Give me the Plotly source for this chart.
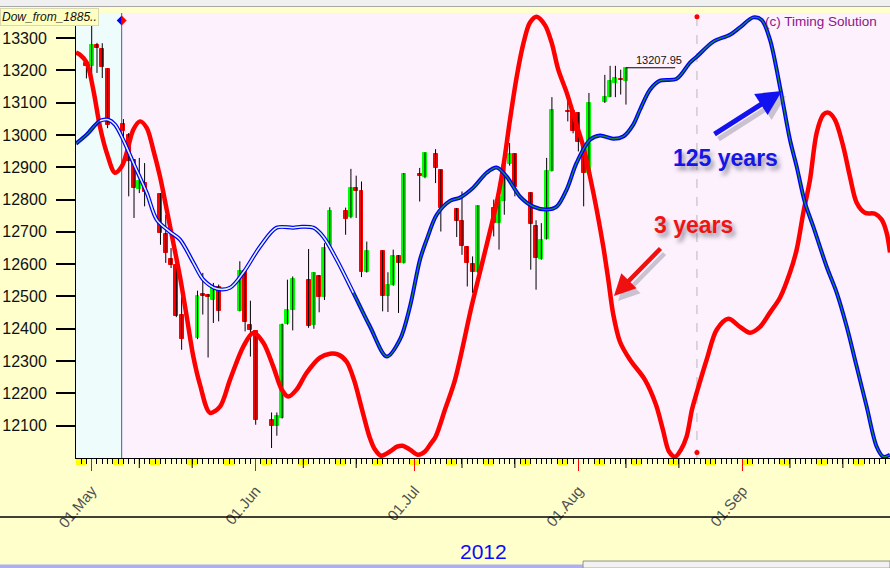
import plotly.graph_objects as go
import pandas as pd

# ---------------- data ----------------
candle_dates = ["2012-04-30", "2012-05-01", "2012-05-02", "2012-05-03", "2012-05-04", "2012-05-07",
                "2012-05-08", "2012-05-09", "2012-05-10", "2012-05-11", "2012-05-14", "2012-05-15",
                "2012-05-16", "2012-05-17", "2012-05-18", "2012-05-21", "2012-05-22", "2012-05-23",
                "2012-05-24", "2012-05-25", "2012-05-29", "2012-05-30", "2012-05-31", "2012-06-01",
                "2012-06-04", "2012-06-05", "2012-06-06", "2012-06-07", "2012-06-08", "2012-06-11",
                "2012-06-12", "2012-06-13", "2012-06-14", "2012-06-15", "2012-06-18", "2012-06-19",
                "2012-06-20", "2012-06-21", "2012-06-22", "2012-06-25", "2012-06-26", "2012-06-27",
                "2012-06-28", "2012-06-29", "2012-07-02", "2012-07-03", "2012-07-05", "2012-07-06",
                "2012-07-09", "2012-07-10", "2012-07-11", "2012-07-12", "2012-07-13", "2012-07-16",
                "2012-07-17", "2012-07-18", "2012-07-19", "2012-07-20", "2012-07-23", "2012-07-24",
                "2012-07-25", "2012-07-26", "2012-07-27", "2012-07-30", "2012-07-31", "2012-08-01",
                "2012-08-02", "2012-08-03", "2012-08-06", "2012-08-07", "2012-08-08", "2012-08-09",
                "2012-08-10"]
opens = [13222, 13214, 13279, 13267, 13204, 13034, 13001, 12921, 12832, 12851, 12818, 12694,
         12616, 12598, 12444, 12372, 12508, 12506, 12490, 12529, 12454, 12580, 12413, 12392,
         12119, 12100, 12124, 12416, 12459, 12552, 12413, 12564, 12498, 12655, 12766, 12745,
         12836, 12825, 12575, 12640, 12503, 12534, 12626, 12604, 12880, 12870, 12942, 12890,
         12772, 12735, 12652, 12601, 12575, 12774, 12727, 12796, 12910, 12941, 12820, 12719,
         12617, 12679, 12889, 13075, 13073, 13068, 12970, 12882, 13101, 13119, 13161, 13173,
         13168]
highs = [13230, 13338, 13285, 13284, 13206, 13049, 13006, 12925, 12929, 12913, 12820, 12753,
         12650, 12617, 12500, 12518, 12573, 12508, 12542, 12537, 12609, 12582, 12487, 12392,
         12141, 12141, 12416, 12552, 12562, 12647, 12575, 12566, 12665, 12776, 12775, 12895,
         12874, 12856, 12670, 12642, 12575, 12645, 12628, 12882, 12898, 12946, 12956, 12892,
         12774, 12825, 12655, 12624, 12782, 12800, 12810, 12910, 12975, 12943, 12822, 12736,
         12727, 12929, 13117, 13114, 13078, 13070, 12972, 13130, 13186, 13214, 13214, 13202,
         13208]
lows = [13175, 13176, 13192, 13176, 13021, 12985, 12810, 12743, 12820, 12779, 12660, 12604,
        12588, 12436, 12335, 12368, 12444, 12311, 12418, 12423, 12454, 12392, 12314, 12103,
        12031, 12069, 12122, 12413, 12395, 12403, 12400, 12451, 12489, 12652, 12691, 12742,
        12743, 12560, 12574, 12454, 12452, 12533, 12449, 12602, 12794, 12866, 12851, 12701,
        12684, 12629, 12531, 12511, 12573, 12686, 12645, 12753, 12905, 12810, 12583, 12521,
        12614, 12676, 12887, 13042, 13005, 12949, 12779, 12880, 13099, 13117, 13117, 13125,
        13094]
closes = [13214, 13279, 13270, 13210, 13030, 13011, 12918, 12836, 12856, 12822, 12696, 12635,
          12598, 12441, 12368, 12503, 12503, 12498, 12526, 12454, 12580, 12420, 12395, 12119,
          12100, 12129, 12413, 12459, 12554, 12410, 12573, 12498, 12650, 12766, 12741, 12836,
          12826, 12575, 12642, 12503, 12534, 12626, 12604, 12880, 12872, 12944, 12898, 12774,
          12735, 12655, 12605, 12575, 12779, 12727, 12807, 12908, 12941, 12838, 12724, 12619,
          12676, 12889, 13076, 13071, 13011, 12977, 12882, 13099, 13119, 13168, 13176, 13169,
          13207.95]

# cycle projections: days after 2012-05-01 and price level
red_days = [-2.97, -2.21, -0.95, 0.30, 1.57, 2.84, 4.40, 5.67, 6.62, 7.86, 9.13, 10.40, 11.64,
            12.91, 14.18, 15.43, 16.69, 17.96, 19.21, 20.47, 22.36, 24.25, 26.14, 28.66, 30.55,
            32.44, 34.33, 35.92, 37.16, 38.75, 40.64, 43.16, 45.05, 46.62, 48.20, 49.58, 51.10,
            52.51, 53.55, 54.69, 56.39, 57.71, 58.77, 60.17, 61.68, 63.01, 63.95, 65.01, 66.79,
            68.68, 71.89, 74.67, 76.56, 77.81, 79.07, 80.34, 81.59, 82.85, 84.11, 85.69, 86.96,
            88.20, 89.79, 91.36, 92.93, 94.20, 95.46, 96.71, 97.66, 98.60, 99.86, 101.76, 104.59,
            106.67, 107.99, 109.13, 110.27, 111.40, 112.46, 113.48, 114.37, 116.26, 118.15,
            120.34, 122.55, 124.44, 126.33, 128.22, 130.11, 132.00, 133.27, 134.52, 135.78,
            137.05, 138.30, 139.24, 140.51, 142.08, 143.34, 144.61, 146.18, 148.07, 149.34,
            150.28, 150.91]
red_vals = [13255, 13248, 13224, 13140, 13025, 12945, 12883, 12902, 12945, 13016, 13042, 13022,
            12954, 12871, 12769, 12666, 12561, 12438, 12314, 12227, 12140, 12159, 12242, 12345,
            12388, 12357, 12283, 12212, 12190, 12212, 12264, 12311, 12323, 12320, 12298, 12242,
            12150, 12066, 12026, 12007, 12020, 12035, 12038, 12026, 12010, 12020, 12041, 12066,
            12150, 12242, 12475, 12660, 12790, 12902, 13047, 13180, 13282, 13348, 13366, 13340,
            13285, 13202, 13131, 13047, 12964, 12871, 12769, 12654, 12552, 12444, 12360, 12304,
            12242, 12165, 12087, 12020, 12004, 12026, 12066, 12150, 12202, 12305, 12397, 12431,
            12406, 12388, 12406, 12450, 12496, 12574, 12645, 12759, 12861, 13007, 13063, 13069,
            13047, 12964, 12871, 12790, 12759, 12756, 12738, 12697, 12636]
blue_days = [-2.97, -0.95, 1.57, 3.14, 4.40, 5.97, 7.86, 10.40, 12.29, 14.80, 16.69, 19.21,
             21.10, 23.63, 26.14, 28.66, 31.81, 34.97, 38.11, 39.70, 41.89, 43.78, 46.31, 49.45,
             52.61, 55.77, 58.28, 60.17, 62.06, 63.33, 65.22, 67.74, 69.63, 72.14, 74.67, 76.56,
             78.45, 80.97, 83.48, 86.01, 87.90, 89.79, 91.68, 94.20, 96.09, 98.60, 100.49, 102.38,
             103.65, 105.54, 107.43, 110.59, 113.10, 114.37, 117.51, 120.66, 122.55, 125.07,
             126.65, 128.22, 130.11, 132.00, 133.27, 134.84, 136.41, 138.94, 140.83, 142.72,
             144.61, 146.50, 148.39, 149.64, 150.91]
blue_vals = [12973, 13001, 13044, 13047, 13032, 12985, 12914, 12821, 12738, 12700, 12676, 12605,
             12552, 12524, 12527, 12574, 12654, 12713, 12713, 12716, 12713, 12685, 12614, 12512,
             12407, 12314, 12367, 12469, 12614, 12676, 12753, 12796, 12806, 12837, 12883, 12899,
             12871, 12809, 12778, 12769, 12778, 12831, 12914, 12985, 12998, 12988, 12995, 13032,
             13078, 13140, 13168, 13174, 13224, 13242, 13289, 13310, 13333, 13364, 13356, 13295,
             13149, 12985, 12902, 12790, 12716, 12592, 12512, 12407, 12283, 12159, 12035, 12004,
             12010]

month_ticks = ["2012-05-01", "2012-06-01", "2012-07-01", "2012-08-01", "2012-09-01"]
month_labels = ["01.May", "01.Jun", "01.Jul", "01.Aug", "01.Sep"]
y_ticks = list(range(12100, 13301, 100))

assert len(red_days) == len(red_vals) and len(blue_days) == len(blue_vals)

# ---------------- helpers ----------------
BASE = pd.Timestamp("2012-05-01")
def to_dates(days):
    return [BASE + pd.Timedelta(days=d) for d in days]

red_x = to_dates(red_days)
blue_x = to_dates(blue_days)
cd = pd.to_datetime(candle_dates)

X_LO = "2012-04-28 00:46"
X_HI = "2012-09-28 21:50"
Y_LO, Y_HI = 12000, 13377.5
VLINE = "2012-05-06 16:00"
DASHED = "2012-08-23 10:00"
FONT = "Liberation Sans, Arial, sans-serif"

fig = go.Figure()

# wicks
wx, wy = [], []
for d, h, l in zip(cd, highs, lows):
    wx += [d, d, None]
    wy += [l, h, None]
fig.add_trace(go.Scatter(x=wx, y=wy, mode="lines", line=dict(color="black", width=1),
                         hoverinfo="skip", showlegend=False))
# bodies
cols = ["#00ff00" if c >= o else "#ff0000" for o, c in zip(opens, closes)]
fig.add_trace(go.Bar(x=cd, y=[c - o for o, c in zip(opens, closes)], base=opens,
                     width=0.75 * 86400000,
                     marker=dict(color=cols, line=dict(color=cols, width=1)),
                     hoverinfo="skip", showlegend=False))

# 3-year cycle (red)
fig.add_trace(go.Scatter(x=red_x, y=red_vals, mode="lines", line=dict(color="#ff0000", width=4.5, shape="spline", smoothing=0.9),
                         hoverinfo="skip", showlegend=False))
# 125-year cycle (blue double line)
fig.add_trace(go.Scatter(x=blue_x, y=blue_vals, mode="lines", line=dict(color="#0000ff", width=4.0, shape="spline", smoothing=0.9),
                         hoverinfo="skip", showlegend=False))
fig.add_trace(go.Scatter(x=blue_x, y=blue_vals, mode="lines", line=dict(color="#1a8a3a", width=1.3, shape="spline", smoothing=0.9),
                         hoverinfo="skip", showlegend=False))
mid = [i for i, d in enumerate(blue_days) if 0.0 <= d <= 50.5]
fig.add_trace(go.Scatter(x=[blue_x[i] for i in mid], y=[blue_vals[i] for i in mid], mode="lines",
                         line=dict(color="#e6efff", width=1.5, shape="spline", smoothing=0.9),
                         hoverinfo="skip", showlegend=False))

# red dots on the dashed line
fig.add_trace(go.Scatter(x=[DASHED, DASHED], y=[13366, 12017], mode="markers",
                         marker=dict(color="#ff0000", size=5), hoverinfo="skip", showlegend=False))

shapes = []
# cyan history strip + vertical line
shapes.append(dict(type="rect", xref="x", yref="paper", x0=X_LO, x1=VLINE, y0=0, y1=1,
                   fillcolor="#effcfc", line=dict(width=0), layer="below"))
shapes.append(dict(type="line", xref="x", yref="paper", x0=VLINE, x1=VLINE, y0=0, y1=1,
                   line=dict(color="#2a6e8e", width=1), layer="below"))
shapes.append(dict(type="line", xref="x", yref="paper", x0=DASHED, x1=DASHED, y0=0, y1=1,
                   line=dict(color="#b8b8b8", width=1, dash="dash"), layer="below"))
# diamond marker at top of vertical line
shapes.append(dict(type="path", xref="x", yref="y", xsizemode="pixel", ysizemode="pixel",
                   xanchor=VLINE, yanchor=13354, path="M-5,0 L0,5 L0,-5 Z",
                   fillcolor="#0000ff", line=dict(width=0)))
shapes.append(dict(type="path", xref="x", yref="y", xsizemode="pixel", ysizemode="pixel",
                   xanchor=VLINE, yanchor=13354, path="M5,0 L0,5 L0,-5 Z",
                   fillcolor="#ff0000", line=dict(width=0)))
# weekend blocks under axis
for sat in pd.date_range("2012-04-28", "2012-09-29", freq="W-SAT"):
    shapes.append(dict(type="rect", xref="x", yref="paper", x0=sat, x1=sat + pd.Timedelta(days=2),
                       y0=-0.0157, y1=0, fillcolor="#ffff00", line=dict(width=0), layer="below"))
# 10th / 20th day ticks
for m in range(5, 10):
    for dd in (10, 20):
        t = pd.Timestamp(2012, m, dd)
        shapes.append(dict(type="line", xref="x", yref="paper", x0=t, x1=t, y0=-0.0225, y1=0,
                           line=dict(color="black", width=1)))
# last-close marker line
shapes.append(dict(type="line", xref="x", yref="y", x0=cd[-1], x1=cd[-1] + pd.Timedelta(days=9.3),
                   y0=closes[-1], y1=closes[-1], line=dict(color="black", width=1)))
# window decorations
shapes.append(dict(type="rect", xref="paper", yref="paper", x0=-0.0934, x1=1.0, y0=1.0157, y1=1.03,
                   fillcolor="#f0f0f0", line=dict(width=0)))
shapes.append(dict(type="line", xref="paper", yref="paper", x0=-0.0934, x1=1.0, y0=1.0146, y1=1.0146,
                   line=dict(color="#a8a8a8", width=1)))
shapes.append(dict(type="line", xref="paper", yref="paper", x0=-0.0934, x1=1.0, y0=-0.1326, y1=-0.1326,
                   line=dict(color="black", width=1.3)))
shapes.append(dict(type="rect", xref="paper", yref="paper", x0=-0.0934, x1=1.0, y0=-0.2475, y1=-0.2393,
                   fillcolor="#aeaef2", line=dict(width=0)))
shapes.append(dict(type="rect", xref="paper", yref="paper", x0=0.6229, x1=1.0, y0=-0.2475, y1=-0.2315,
                   fillcolor="#f2f2f2", line=dict(color="#909090", width=1)))

annotations = []
annotations.append(dict(xref="paper", yref="paper", x=-0.0934, y=0.992, xanchor="left", yanchor="middle",
                        text="<i>Dow_from_1885..</i>", showarrow=False, bgcolor="#ffffc0",
                        bordercolor="#d8d8b0", borderwidth=1, borderpad=1,
                        font=dict(family=FONT, size=12, color="#111111")))
annotations.append(dict(xref="paper", yref="paper", x=0.9152, y=0.982, xanchor="center", yanchor="middle",
                        text="(c) Timing Solution", showarrow=False,
                        font=dict(family=FONT, size=13.5, color="#8a168a")))
annotations.append(dict(xref="x", yref="y", x=cd[-1] + pd.Timedelta(days=6.3), y=closes[-1],
                        xanchor="center", yanchor="bottom", yshift=0,
                        text=f"{closes[-1]:.2f}", showarrow=False,
                        font=dict(family=FONT, size=11, color="#111111")))
# arrow shadows
annotations.append(dict(xref="paper", yref="paper", x=0.8673, y=0.8247, ax=-69, ay=44, text="",
                        showarrow=True, arrowhead=2, arrowsize=1, arrowwidth=5,
                        arrowcolor="rgba(90,90,110,0.30)", xshift=4, yshift=-5, standoff=0))
annotations.append(dict(xref="paper", yref="paper", x=0.6609, y=0.3640, ax=48, ay=-49, text="",
                        showarrow=True, arrowhead=2, arrowsize=0.95, arrowwidth=4.5,
                        arrowcolor="rgba(90,90,110,0.30)", xshift=4, yshift=-5, standoff=0))
# arrows
annotations.append(dict(xref="paper", yref="paper", x=0.8673, y=0.8247, ax=-69, ay=44, text="",
                        showarrow=True, arrowhead=2, arrowsize=1, arrowwidth=5,
                        arrowcolor="#1212f0", standoff=0))
annotations.append(dict(xref="paper", yref="paper", x=0.6609, y=0.3640, ax=48, ay=-49, text="",
                        showarrow=True, arrowhead=2, arrowsize=0.95, arrowwidth=4.5,
                        arrowcolor="#f01010", standoff=0))
# labels
annotations.append(dict(xref="paper", yref="paper", x=0.7973, y=0.6742, xanchor="center", yanchor="middle",
                        text="<b>125 years</b>", showarrow=False,
                        font=dict(family=FONT, size=23, color="#1515e6",
                                  shadow="3px 4px 4px rgba(70,70,90,0.55)")))
annotations.append(dict(xref="paper", yref="paper", x=0.758, y=0.5236, xanchor="center", yanchor="middle",
                        text="<b>3 years</b>", showarrow=False,
                        font=dict(family=FONT, size=23, color="#f01414",
                                  shadow="3px 4px 4px rgba(70,70,90,0.55)")))
annotations.append(dict(xref="paper", yref="paper", x=0.5012, y=-0.209, xanchor="center", yanchor="middle",
                        text="2012", showarrow=False,
                        font=dict(family=FONT, size=21, color="#0a0aff")))

fig.update_layout(
    width=890, height=568,
    margin=dict(l=76, r=0, t=13, b=110, pad=0),
    paper_bgcolor="#ffffcc", plot_bgcolor="#fdf1fd",
    showlegend=False, bargap=0,
    shapes=shapes, annotations=annotations,
    font=dict(family=FONT),
    xaxis=dict(type="date", range=[X_LO, X_HI], showgrid=False, zeroline=False,
               showline=True, linecolor="black", linewidth=1,
               tickmode="array", tickvals=month_ticks, ticktext=month_labels,
               tickangle=-50, tickfont=dict(family=FONT, size=15, color="#505050"),
               ticklabelstandoff=5,
               ticks="outside", ticklen=12, tickcolor="#ff0000", tickwidth=1,
               minor=dict(ticks="outside", ticklen=5, tickcolor="black", tickwidth=1,
                          tickmode="linear", tick0="2012-04-28", dtick=86400000, showgrid=False),
               fixedrange=True),
    yaxis=dict(range=[Y_LO, Y_HI], showgrid=False, zeroline=False,
               showline=True, linecolor="black", linewidth=1,
               tickmode="array", tickvals=y_ticks, tickformat="d", ticks="outside", ticklen=19,
               tickcolor="black", tickwidth=2, ticklabelstandoff=6,
               tickfont=dict(family=FONT, size=16, color="#111111"), fixedrange=True),
)

fig.write_html("out.html", config={"displayModeBar": False},
               post_script="document.body.style.margin='0';document.body.style.overflow='hidden';")
